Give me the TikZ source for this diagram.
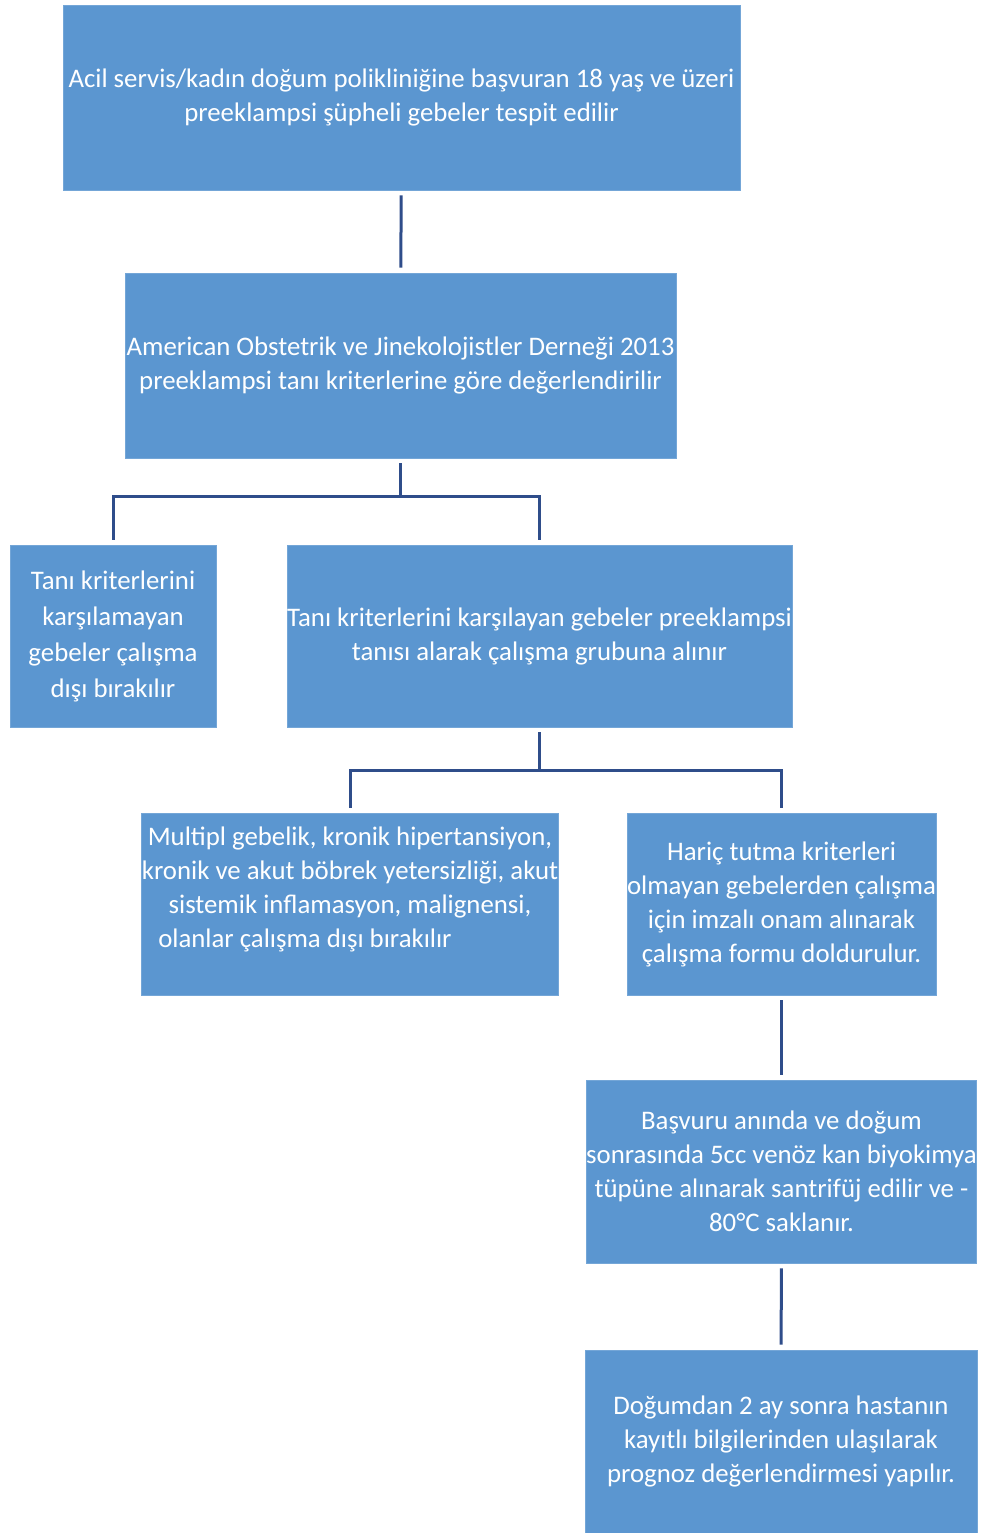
\documentclass[tikz,border=0pt]{standalone}
\usepackage{fontspec}
\setmainfont{Carlito}
\usepackage{tikz}
\definecolor{kutu}{HTML}{5B96D0}
\definecolor{hat}{HTML}{2F4D8A}

\begin{document}
\begin{tikzpicture}[x=0.5pt,y=-0.5pt,
    kutu/.style={rectangle,fill=kutu,draw=kutu!85!white,inner sep=0pt,
      text=white,align=center,font=\fontsize{13.4pt}{17pt}\selectfont},
    hat/.style={draw=hat,line width=1.5pt,shorten <=2.5pt,shorten >=2.5pt}]
      \useasboundingbox (0,0) rectangle (983,1533);
      \node (basvuru) at (401.5,97.5) [kutu,minimum width=338.5pt,minimum height=92.5pt]
        {Acil servis/kadın doğum polikliniğine başvuran 18 yaş ve üzeri\\preeklampsi şüpheli gebeler tespit edilir};
      \node (tani) at (400.5,365.5) [kutu,minimum width=275.5pt,minimum height=92.5pt]
        {American Obstetrik ve Jinekolojistler Derneği 2013\\preeklampsi tanı kriterlerine göre değerlendirilir};
      \node (disi) at (113,636) [kutu,minimum width=103pt,minimum height=91pt,
        font=\fontsize{13.4pt}{18pt}\selectfont]
        {Tanı kriterlerini\\karşılamayan\\gebeler çalışma\\dışı bırakılır};
      \node (grup) at (539.5,636) [kutu,minimum width=252.5pt,minimum height=91pt]
        {Tanı kriterlerini karşılayan gebeler preeklampsi\\tanısı alarak çalışma grubuna alınır};
      \node (haric) at (350,904) [kutu,minimum width=207pt,minimum height=91pt]
        {Multipl gebelik, kronik hipertansiyon,\\kronik ve akut böbrek yetersizliği, akut\\sistemik inflamasyon, malignensi,\\\mbox{olanlar çalışma dışı bırakılır\hspace{45pt}}\\\mbox{}};
      \node (onam) at (781.5,904) [kutu,minimum width=153.5pt,minimum height=91pt]
        {Hariç tutma kriterleri\\olmayan gebelerden çalışma\\için imzalı onam alınarak\\çalışma formu doldurulur.};
      \node (kan) at (781.5,1171.5) [kutu,minimum width=193.5pt,minimum height=91.5pt]
        {Başvuru anında ve doğum\\sonrasında 5cc venöz kan biyokimya\\tüpüne alınarak santrifüj edilir ve -\\80°C saklanır.};
      \node (prognoz) at (781,1441.5) [kutu,minimum width=196pt,minimum height=91.5pt]
        {Doğumdan 2 ay sonra hastanın\\kayıtlı bilgilerinden ulaşılarak\\prognoz değerlendirmesi yapılır.};
      \draw [hat] (basvuru) -- (tani);
      \draw [hat,shorten >=0pt] (tani.south) -- ++(0,38);
      \draw [hat,shorten <=0pt] (tani.south) ++(0,38) -| (disi.north);
      \draw [hat,shorten <=0pt] (tani.south) ++(0,38) -| (grup.north);
      \draw [hat,shorten >=0pt] (grup.south) -- ++(0,43);
      \draw [hat,shorten <=0pt] (grup.south) ++(0,43) -| (haric.north);
      \draw [hat,shorten <=0pt] (grup.south) ++(0,43) -| (onam.north);
      \draw [hat] (onam) -- (kan);
      \draw [hat] (kan) -- (prognoz);
    \end{tikzpicture}
\end{document}
